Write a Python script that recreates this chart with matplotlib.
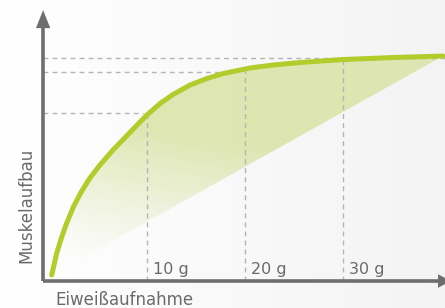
import numpy as np
import matplotlib
matplotlib.use("Agg")
import matplotlib.pyplot as plt
from matplotlib.patches import Polygon

# ---- data ----
protein_g = [0.28, 0.79, 1.30, 1.81, 2.48, 3.34, 4.18, 5.20, 6.53, 7.96, 9.29, 10.0,
             11.33, 12.65, 14.39, 16.12, 17.76, 20.51, 22.86, 25.61, 30.0, 35.1, 40.2]
muscle = [2.67, 12.44, 19.56, 25.78, 32.89, 40.0, 45.78, 51.56, 58.22, 64.67, 70.67, 73.78,
          78.89, 82.89, 87.11, 90.0, 92.22, 94.67, 96.0, 97.11, 98.44, 99.33, 100.0]
tick_vals = [10, 20, 30]
tick_labels = ["10 g", "20 g", "30 g"]
level_vals = [74.8, 92.9, 99.1]   # dashed guide levels
level_ends = [9.6, 17.6, 40.4]
xlabel = "Eiweißaufnahme"
ylabel = "Muskelaufbau"

LINE = "#b4cb2c"
FILL = (0.862, 0.898, 0.668)
AX = "#6e6e6e"
DASH = "#b4b4b4"
TXT = "#6a6a6a"

fig = plt.figure(figsize=(4.45, 3.08), dpi=100)
ax = fig.add_axes([0, 0, 1, 1])
x0, x1 = -5.0, 40.41
y0, y1 = -12.0, 124.9
ax.set_xlim(x0, x1)
ax.set_ylim(y0, y1)
ax.axis("off")

# background gradient
bg = np.linspace(1.0, 0.955, 200)[None, :]
bg = np.repeat(bg, 10, axis=0)
ax.imshow(np.dstack([bg, bg, bg]), extent=[x0, x1, y0, y1], aspect="auto", zorder=0)

# gradient fill between curve and straight chord
xs = np.linspace(0, 41, 300)
ys = np.linspace(0, 101, 300)
XX, YY = np.meshgrid(xs, ys)
alpha = np.clip((YY - 10) / 70.0 + XX / 100.0, 0, 0.92) ** 1.2
img = np.zeros((300, 300, 4))
img[..., 0], img[..., 1], img[..., 2] = FILL
img[..., 3] = alpha
poly = Polygon(list(zip(protein_g, muscle)), closed=True, facecolor="none", edgecolor="none")
ax.add_patch(poly)
im = ax.imshow(img, extent=[0, 41, 0, 101], origin="lower", aspect="auto", zorder=1)
im.set_clip_path(poly)

# dashed guides
for xv in tick_vals:
    yv = np.interp(xv, protein_g, muscle)
    ax.plot([xv, xv], [0, yv], color=DASH, lw=1.0, ls=(0, (3.5, 3)), zorder=2)
for lv, xe in zip(level_vals, level_ends):
    ax.plot([-0.6, xe], [lv, lv], color=DASH, lw=1.0, ls=(0, (3.5, 3)), zorder=2)

# curve
ax.plot(protein_g, muscle, color=LINE, lw=3.6, solid_capstyle="round",
        solid_joinstyle="round", zorder=4)

# axes with arrows
ax.plot([-0.6, -0.6], [0, 113.5], color=AX, lw=2.6, solid_capstyle="butt", zorder=5)
ax.plot([-0.6, 40.0], [0, 0], color=AX, lw=2.6, solid_capstyle="butt", zorder=5)
ax.fill([-1.33, 0.13, -0.6], [112.4, 112.4, 120.4], color=AX, zorder=5, lw=0)
ax.fill([39.7, 39.7, 41.0], [-3.0, 3.0, 0], color=AX, zorder=5, lw=0)

font = ["DejaVu Sans"]
for xv, lab in zip(tick_vals, tick_labels):
    ax.text(xv + 0.6, 3.1, lab, color=TXT, fontsize=11.5, family=font,
            ha="left", va="baseline", zorder=6)
ax.text(0.6, -10.6, xlabel, color=TXT, fontsize=12, family=font,
        ha="left", va="baseline", zorder=6)
ax.text(-2.3, 33.8, ylabel, color=TXT, fontsize=12, family=font,
        ha="center", va="center", rotation=90, zorder=6)

fig.savefig("out.png", dpi=100)
